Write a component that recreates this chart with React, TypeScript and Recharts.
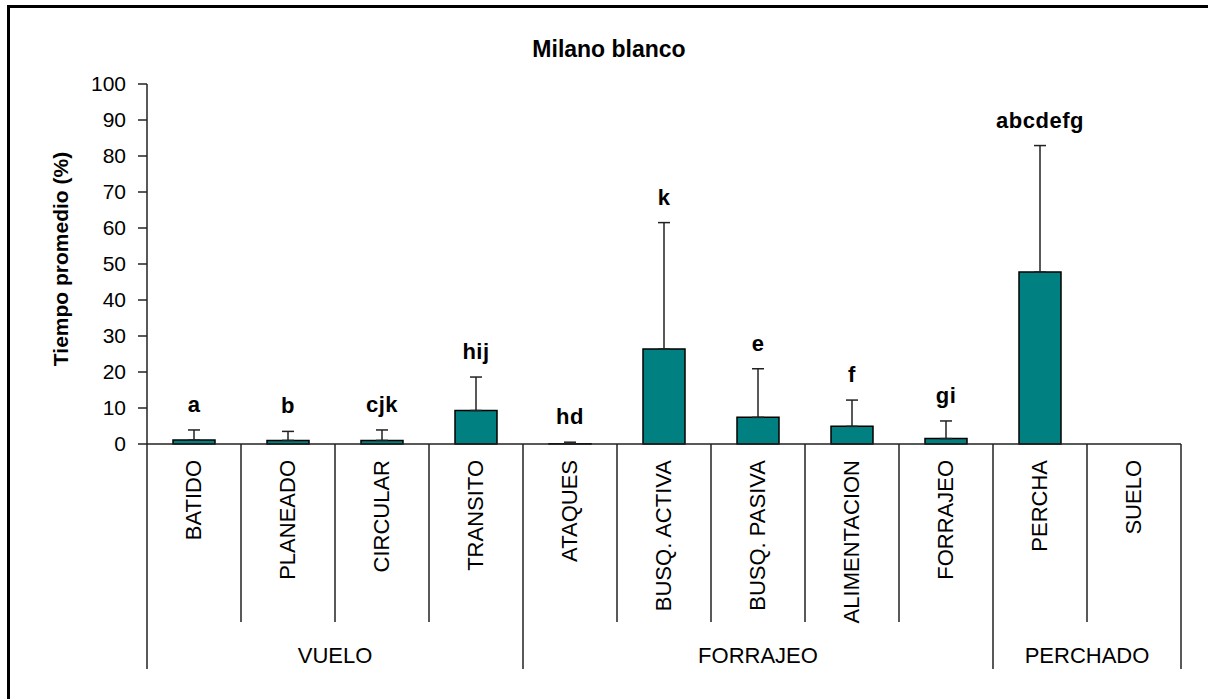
import React from "react";
import { ComposedChart, Bar, Line, XAxis, YAxis, ErrorBar, LabelList, Label } from "recharts";

const categorias = [
  "BATIDO",
  "PLANEADO",
  "CIRCULAR",
  "TRANSITO",
  "ATAQUES",
  "BUSQ. ACTIVA",
  "BUSQ. PASIVA",
  "ALIMENTACION",
  "FORRAJEO",
  "PERCHA",
  "SUELO",
];
const promedios = [1.1, 1.0, 1.0, 9.3, 0.1, 26.4, 7.4, 4.9, 1.5, 47.8, 0];
const desvios = [2.8, 2.5, 2.9, 9.3, 0.4, 35.1, 13.5, 7.3, 4.9, 35.1, 0];
const letras = ["a", "b", "cjk", "hij", "hd", "k", "e", "f", "gi", "abcdefg", ""];
const grupos = [
  { nombre: "VUELO", n: 4 },
  { nombre: "FORRAJEO", n: 5 },
  { nombre: "PERCHADO", n: 2 },
];
const ticksY = [0, 10, 20, 30, 40, 50, 60, 70, 80, 90, 100];

const W = 1208;
const H = 699;
const EJE_Y_ANCHO = 147;
const MARGEN_DER = 27;
const BANDA = (W - EJE_Y_ANCHO - MARGEN_DER) / categorias.length;
const FUENTE = "'Liberation Sans', Arial, sans-serif";
const TEAL = "#008080";

const datos = categorias.map((c, i) => ({
  cat: c,
  prom: promedios[i],
  err: [0, desvios[i]],
  tope: promedios[i] + desvios[i],
  letra: letras[i],
}));

// index of the first category of each group
const inicioGrupo: Record<number, { nombre: string; n: number }> = {};
{
  let k = 0;
  grupos.forEach((g) => {
    inicioGrupo[k] = g;
    k += g.n;
  });
}

function TickCategoria(props: any) {
  const { x, y, payload } = props;
  const i = payload.index;
  const izq = x - BANDA / 2;
  const grupo = inicioGrupo[i];
  const ultimo = i === categorias.length - 1;
  return (
    <g>
      <line x1={izq} y1={y} x2={izq} y2={y + (grupo ? 225 : 178)} stroke="#222" strokeWidth={1.5} />
      {ultimo && <line x1={x + BANDA / 2} y1={y} x2={x + BANDA / 2} y2={y + 225} stroke="#222" strokeWidth={1.5} />}
      <text
        x={x + 7}
        y={y + 16}
        transform={`rotate(-90, ${x + 7}, ${y + 16})`}
        textAnchor="end"
        fontFamily={FUENTE}
        fontSize={22}
        fill="#000"
      >
        {payload.value}
      </text>
      {grupo && (
        <text
          x={izq + (grupo.n * BANDA) / 2}
          y={y + 219}
          textAnchor="middle"
          fontFamily={FUENTE}
          fontSize={22}
          fill="#000"
        >
          {grupo.nombre}
        </text>
      )}
    </g>
  );
}

export default function App() {
  return (
    <div style={{ position: "absolute", left: 0, top: 0, width: W, height: H, background: "#fff" }}>
      <div
        style={{
          position: "absolute",
          left: 7,
          top: 5,
          width: W,
          height: H,
          borderLeft: "3px solid #000",
          borderTop: "3px solid #000",
        }}
      />
      <div
        style={{
          position: "absolute",
          left: 0,
          width: 1218,
          top: 36,
          textAlign: "center",
          fontFamily: FUENTE,
          fontWeight: "bold",
          fontSize: 23,
          lineHeight: "27px",
        }}
      >
        Milano blanco
      </div>
      <ComposedChart
        width={W}
        height={H}
        data={datos}
        margin={{ top: 84, right: MARGEN_DER, bottom: 0, left: 0 }}
        style={{ position: "absolute", left: 0, top: 0 }}
      >
        <XAxis
          dataKey="cat"
          interval={0}
          height={255}
          tickSize={0}
          tickMargin={0}
          tickLine={false}
          axisLine={{ stroke: "#222", strokeWidth: 1.5 }}
          tick={<TickCategoria />}
        />
        <YAxis
          domain={[0, 100]}
          ticks={ticksY}
          interval={0}
          width={EJE_Y_ANCHO}
          tickSize={9}
          tickMargin={12}
          axisLine={{ stroke: "#222", strokeWidth: 1.5 }}
          tickLine={{ stroke: "#222", strokeWidth: 1.5 }}
          tick={{ fontFamily: FUENTE, fontSize: 21, fill: "#000" }}
        >
          <Label
            content={(p: any) => {
              const vb = p.viewBox;
              const cx = vb.x + 60;
              const cy = vb.y + vb.height / 2 - 5;
              return (
                <text
                  x={cx}
                  y={cy}
                  transform={`rotate(-90, ${cx}, ${cy})`}
                  textAnchor="middle"
                  dominantBaseline="central"
                  fontFamily={FUENTE}
                  fontWeight="bold"
                  fontSize={21}
                  fill="#000"
                >
                  Tiempo promedio (%)
                </text>
              );
            }}
          />
        </YAxis>
        <Bar dataKey="prom" fill={TEAL} stroke="#000" strokeWidth={1.5} barSize={42} isAnimationActive={false}>
          <ErrorBar dataKey="err" direction="y" width={6} stroke="#222" strokeWidth={1.5} />
        </Bar>
        <Line
          dataKey="tope"
          stroke="none"
          dot={false}
          activeDot={false}
          legendType="none"
          isAnimationActive={false}
        >
          <LabelList
            dataKey="letra"
            content={(p: any) => (
              <text
                x={p.x}
                y={p.y - 18}
                textAnchor="middle"
                fontFamily={FUENTE}
                fontWeight="bold"
                fontSize={22}
                letterSpacing={0.5}
                fill="#000"
              >
                {p.value}
              </text>
            )}
          />
        </Line>
      </ComposedChart>
    </div>
  );
}
